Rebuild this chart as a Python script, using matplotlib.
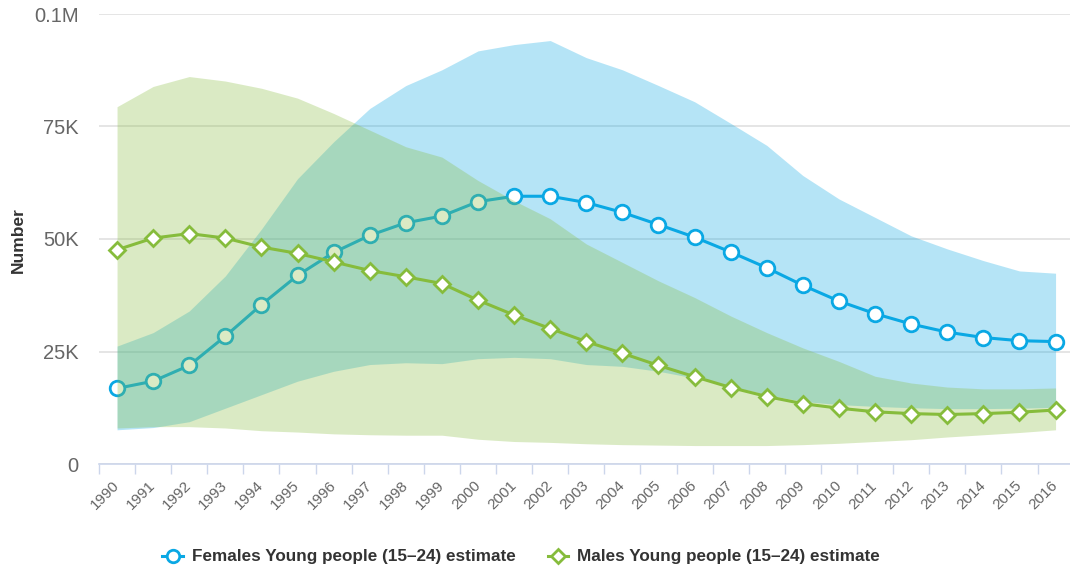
import numpy as np
import matplotlib
matplotlib.use("Agg")
import matplotlib.pyplot as plt
from matplotlib.lines import Line2D
from matplotlib.ticker import FixedLocator, FuncFormatter

years = [str(y) for y in range(1990, 2017)]

# estimates (thousands)
females_est = [16.8, 18.4, 21.9, 28.4, 35.4, 41.9, 47.0, 50.8, 53.6, 55.1,
               58.3, 59.5, 59.5, 58.1, 55.9, 53.2, 50.4, 47.1, 43.6, 39.7,
               36.2, 33.4, 31.1, 29.3, 28.1, 27.4, 27.2]
males_est = [47.6, 50.2, 51.2, 50.2, 48.2, 46.8, 44.9, 43.0, 41.6, 40.1,
             36.4, 33.1, 30.1, 27.2, 24.6, 21.9, 19.4, 17.0, 15.0, 13.4,
             12.4, 11.6, 11.2, 11.0, 11.2, 11.5, 12.0]

# uncertainty ranges (thousands)
females_low = [7.6, 8.1, 9.4, 12.4, 15.4, 18.4, 20.6, 22.1, 22.5, 22.3,
               23.4, 23.7, 23.4, 22.1, 21.7, 20.6, 19.1, 17.3, 15.4, 13.9,
               13.2, 12.8, 12.5, 12.3, 12.3, 12.4, 12.6]
females_high = [26.2, 29.2, 34.0, 41.8, 52.2, 63.4, 71.6, 79.0, 84.1, 87.6,
                91.8, 93.2, 94.1, 90.3, 87.6, 84.1, 80.5, 75.7, 70.8, 64.1,
                58.9, 54.8, 50.7, 47.8, 45.2, 42.9, 42.4]
males_low = [8.0, 8.3, 8.3, 8.0, 7.4, 7.1, 6.7, 6.5, 6.4, 6.4,
             5.5, 5.0, 4.8, 4.5, 4.3, 4.2, 4.1, 4.1, 4.1, 4.3,
             4.6, 5.0, 5.4, 6.0, 6.5, 7.0, 7.6]
males_high = [79.4, 83.9, 86.1, 85.1, 83.5, 81.3, 77.9, 74.2, 70.5, 68.2,
              63.0, 58.5, 54.5, 48.9, 44.8, 40.7, 37.0, 32.9, 29.2, 25.8,
              22.8, 19.5, 18.0, 17.1, 16.7, 16.7, 16.9]

labels = ["Females Young people (15\u201324) estimate",
          "Males Young people (15\u201324) estimate"]

BLUE = "#0aa8e4"
GREEN = "#86bc3c"

plt.rcParams["font.family"] = ["Liberation Sans", "DejaVu Sans"]

fig = plt.figure(figsize=(10.70, 5.73), dpi=100)
ax = fig.add_axes([99 / 1070, 1 - 464 / 573, 971 / 1070, 450 / 573])

x = np.arange(len(years))
k = 1000

ax.fill_between(x, np.array(females_low) * k, np.array(females_high) * k,
                color=BLUE, alpha=0.3, lw=0, zorder=2)
ax.plot(x, np.array(females_est) * k, color=BLUE, lw=2.2, marker="o",
        ms=10.5, mfc="white", mec=BLUE, mew=2, zorder=3)
ax.fill_between(x, np.array(males_low) * k, np.array(males_high) * k,
                color=GREEN, alpha=0.3, lw=0, zorder=4)
ax.plot(x, np.array(males_est) * k, color=GREEN, lw=2.2, marker="D",
        ms=8, mfc="white", mec=GREEN, mew=2, zorder=5)

ax.set_xlim(-0.5, 26.4)
ax.set_ylim(0, 100000)

ax.set_yticks([0, 25000, 50000, 75000, 100000])
ax.yaxis.set_major_formatter(FuncFormatter(
    lambda v, p: "0" if v == 0 else ("0.1M" if v == 100000 else f"{int(v / 1000)}K")))
ax.tick_params(axis="y", length=0, pad=14.5, labelsize=14.5, labelcolor="#666666")
ax.grid(axis="y", color="#e0e0e0", lw=1.2, zorder=1)
ax.set_axisbelow(True)

ax.set_xticks(x)
ax.set_xticklabels(years, rotation=45, ha="right", va="center",
                   rotation_mode="anchor")
ax.tick_params(axis="x", which="major", length=0, pad=14, labelsize=11,
               labelcolor="#666666")
ax.xaxis.set_minor_locator(FixedLocator(np.arange(-0.5, 26, 1)))
ax.tick_params(axis="x", which="minor", length=7.5, width=1, color="#ccd6eb")

for s in ["top", "right", "left"]:
    ax.spines[s].set_visible(False)
ax.spines["bottom"].set_color("#ccd6eb")
ax.spines["bottom"].set_linewidth(1.2)

fig.text(18 / 1070, 1 - 240 / 573, "Number", rotation=90, ha="center",
         va="center", fontsize=12.5, fontweight="bold", color="#333333")

handles = [
    Line2D([], [], color=BLUE, lw=2.2, marker="o", ms=9, mfc="white",
           mec=BLUE, mew=2),
    Line2D([], [], color=GREEN, lw=2.2, marker="D", ms=7, mfc="white",
           mec=GREEN, mew=2),
]
fig.legend(handles, labels, loc="center", ncol=2,
           bbox_to_anchor=(521 / 1070, 1 - 557 / 573), frameon=False,
           prop={"size": 12.3, "weight": "bold"}, labelcolor="#333333",
           handlelength=1.2, handletextpad=0.5, columnspacing=1.9)

fig.savefig("out.png", dpi=100)
